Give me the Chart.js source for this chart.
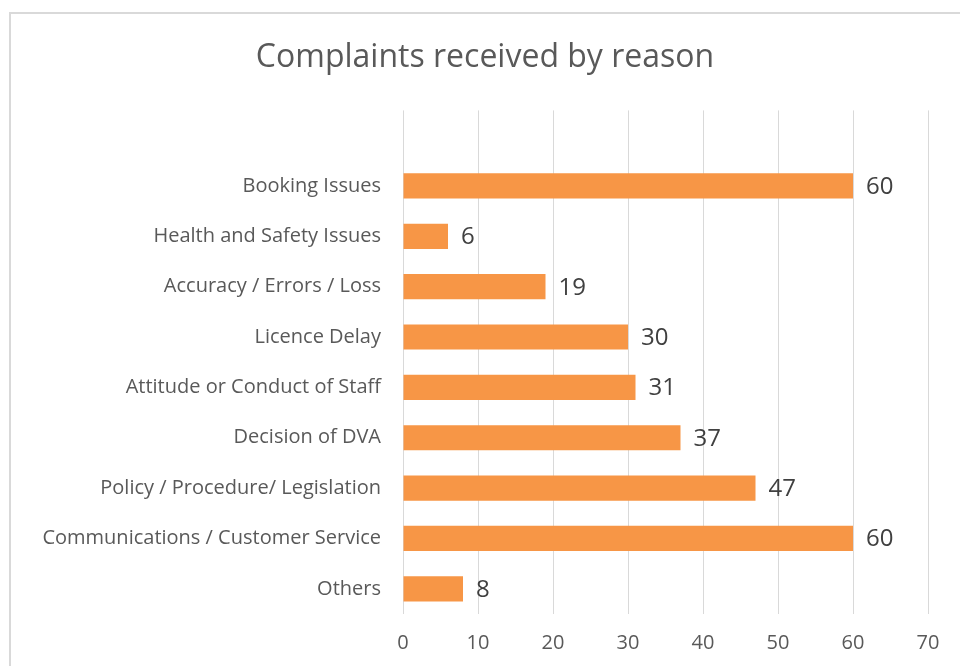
<!DOCTYPE html>
<html>
<head>
<meta charset="utf-8">
<script src="https://cdn.jsdelivr.net/npm/chart.js@4"></script>
<style>
  html, body { margin: 0; padding: 0; background: #fff; overflow: hidden; }
  #wrap { position: relative; width: 978px; height: 666px; }
  #frame { position: absolute; left: 9px; top: 12px; width: 1000px; height: 700px;
           border: 2px solid #d9d9d9; box-sizing: border-box; pointer-events: none; }
</style>
</head>
<body>
<div id="wrap">
  <canvas id="chart" width="978" height="666"></canvas>
  <div id="frame"></div>
</div>
<script>
// top row is an empty category, as in the original sheet
const reasons = ['', 'Booking Issues', 'Health and Safety Issues', 'Accuracy / Errors / Loss',
  'Licence Delay', 'Attitude or Conduct of Staff', 'Decision of DVA',
  'Policy / Procedure/ Legislation', 'Communications / Customer Service', 'Others'];
const complaints = [null, 60, 6, 19, 30, 31, 37, 47, 60, 8];
const xTicks = [0, 10, 20, 30, 40, 50, 60, 70];

const font = '"Open Sans", "Liberation Sans", sans-serif';

// values written just after the end of each bar
const barValues = {
  id: 'barValues',
  afterDatasetsDraw(chart) {
    const ctx = chart.ctx;
    const meta = chart.getDatasetMeta(0);
    ctx.save();
    ctx.font = '24px ' + font;
    ctx.fillStyle = '#404040';
    ctx.textAlign = 'left';
    ctx.textBaseline = 'middle';
    meta.data.forEach((bar, i) => {
      const v = complaints[i];
      if (v == null) return;
      ctx.fillText(v, bar.x + 13, bar.y + 1);
    });
    ctx.restore();
  }
};

new Chart(document.getElementById('chart'), {
  type: 'bar',
  data: {
    labels: reasons,
    datasets: [{
      data: complaints,
      backgroundColor: '#F79646',
      borderWidth: 0,
      categoryPercentage: 1,
      barPercentage: 0.5
    }]
  },
  options: {
    indexAxis: 'y',
    responsive: false,
    animation: false,
    // left padding pushes the title centre towards the middle of the frame
    layout: { padding: { left: 42, right: 50, top: 0, bottom: 0 } },
    plugins: {
      legend: { display: false },
      tooltip: { enabled: false },
      title: {
        display: true,
        text: 'Complaints received by reason',
        color: '#595959',
        font: { family: font, size: 32, weight: 'normal' },
        padding: { top: 39, bottom: 33 }
      }
    },
    scales: {
      x: {
        min: 0,
        max: 70,
        afterBuildTicks: (scale) => { scale.ticks = xTicks.map(v => ({ value: v })); },
        afterFit: (scale) => { scale.height = 52; },
        grid: { color: '#d9d9d9', lineWidth: 1, drawTicks: false },
        border: { display: false },
        ticks: { color: '#595959', padding: 17, font: { family: font, size: 20 } }
      },
      y: {
        afterFit: (scale) => { scale.width = 361; },
        grid: { display: false, drawTicks: false },
        border: { display: false },
        ticks: { color: '#595959', padding: 22, autoSkip: false, font: { family: font, size: 20 } }
      }
    }
  },
  plugins: [barValues]
});
</script>
</body>
</html>
